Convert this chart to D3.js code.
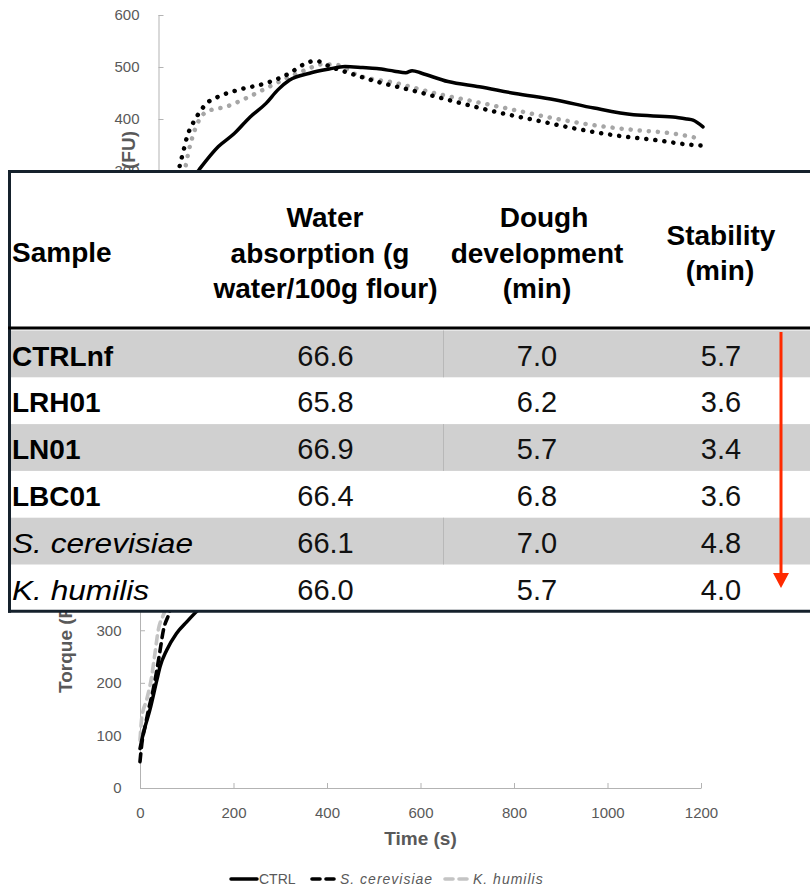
<!DOCTYPE html>
<html>
<head>
<meta charset="utf-8">
<script src="https://cdn.jsdelivr.net/npm/d3@7"></script>
<style>
  body { margin: 0; background: #fff; }
  svg { display: block; font-family: "Liberation Sans", Arial, sans-serif; }
</style>
</head>
<body>
<svg id="fig" width="810" height="890"></svg>
<script>
// Farinograph torque curves: [time (s), torque (FU)]
const upperCtrl = [[0,75],[20,150],[45,230],[70,280],[89,302],[132,347],[167,372],[202,404],[237,430],[263,456],[289,475],[333,488],[376,496],[411,501],[450,499],[481,497],[520,492],[545,489],[559,493],[580,488],[638,472],[707,462],[786,449],[873,437],[960,421],[1047,408],[1134,404],[1165,400],[1178,398],[1200,385]];
const upperScer = [[0,50],[20,150],[35,240],[45,302],[54,335],[63,366],[76,392],[89,411],[106,430],[132,443],[176,456],[237,469],[289,488],[320,505],[346,512],[380,500],[411,491],[481,472],[568,453],[655,433],[742,414],[829,398],[916,382],[1003,369],[1091,360],[1178,350],[1195,349]];
const upperKhum = [[0,90],[20,160],[40,240],[58,302],[67,340],[80,379],[106,414],[150,424],[193,440],[237,459],[281,478],[324,494],[359,505],[393,504],[437,485],[524,469],[612,449],[699,433],[786,417],[873,401],[960,388],[1047,379],[1134,372],[1195,362]];

const lowerCtrl = [[0,75],[7,104],[21,148],[36,205],[43,231],[57,262],[78,294],[100,316],[118,333],[167,372],[202,404],[237,430],[263,456],[289,475],[333,488],[376,496],[411,501],[481,497],[559,493],[638,472],[707,462],[786,449],[873,437],[960,421],[1047,408],[1134,404],[1178,398],[1200,385]];
const lowerScer = [[0,50],[4,85],[11,117],[18,148],[28,186],[36,224],[43,262],[50,300],[61,329],[76,370],[89,400],[106,425],[132,443],[176,456],[237,469],[289,488],[346,512],[411,491],[481,472],[568,453],[655,433],[742,414],[829,398],[916,382],[1003,369],[1091,360],[1178,350],[1200,348]];
const lowerKhum = [[0,91],[4,135],[14,167],[25,212],[32,256],[39,300],[50,329],[67,360],[80,385],[106,414],[150,424],[193,440],[237,459],[281,478],[324,494],[359,505],[393,504],[437,485],[524,469],[612,449],[699,433],[786,417],[873,401],[960,388],[1047,379],[1134,372],[1195,363]];

// Tick labels left uncovered by the table in each panel
const upperTorqueTicks = [300, 400, 500, 600];
const lowerTorqueTicks = [0, 100, 200, 300];
const timeTicks = [0, 200, 400, 600, 800, 1000, 1200];
const legendNames = ["CTRL", "S. cerevisiae", "K. humilis"];

// Dough rheology table
const columnHeaders = [["Sample"], ["Water", "absorption (g", "water/100g flour)"], ["Dough", "development", "(min)"], ["Stability", "(min)"]];
const sampleNames = ["CTRLnf", "LRH01", "LN01", "LBC01", "S. cerevisiae", "K. humilis"];
const sampleItalic = [false, false, false, false, true, true];
const waterAbsorption = [66.6, 65.8, 66.9, 66.4, 66.1, 66.0];
const doughDevelopment = [7.0, 6.2, 5.7, 6.8, 7.0, 5.7];
const stability = [5.7, 3.6, 3.4, 3.6, 4.8, 4.0];

const svg = d3.select("#fig");
svg.append("rect").attr("width", 810).attr("height", 890).attr("fill", "#fff");

const axisColor = "#b3b3b3";
const labelColor = "#595959";

function styleAxis(g) {
  g.select(".domain").attr("stroke", axisColor).attr("stroke-width", 1);
  g.selectAll(".tick line").attr("stroke", axisColor);
  g.selectAll(".tick text").attr("fill", labelColor).attr("font-size", 15)
    .attr("font-family", "'Liberation Sans', Arial, sans-serif");
}

const seriesStyle = {
  solid: { stroke: "#000", width: 3.5, dash: null },
  dotBlack: { stroke: "#000", width: 4.5, dash: "0.1 9" },
  dotGray: { stroke: "#a6a6a6", width: 4.5, dash: "0.1 9" },
  dashBlack: { stroke: "#000", width: 3.6, dash: "8 6" },
  dashGray: { stroke: "#c4c4c4", width: 3.6, dash: "8 6" }
};

// Clip regions keep each panel outside the table block
const defs = svg.append("defs");
defs.append("clipPath").attr("id", "clipUpper").append("rect")
  .attr("x", 0).attr("y", 0).attr("width", 810).attr("height", 172);
defs.append("clipPath").attr("id", "clipLower").append("rect")
  .attr("x", 0).attr("y", 610).attr("width", 810).attr("height", 280);

function drawPanel(cfg) {
  const x = d3.scaleLinear().domain([0, 1200]).range(cfg.xr);
  const y = d3.scaleLinear().domain([0, 600]).range(cfg.yr);
  const g = svg.append("g").attr("clip-path", `url(#${cfg.clip})`);

  if (cfg.xAxis) {
    g.append("g").attr("transform", `translate(0,${cfg.yr[0]})`)
      .call(d3.axisBottom(x).tickValues(timeTicks).tickFormat(d3.format("d"))
        .tickSize(-5).tickSizeOuter(0).tickPadding(19))
      .call(styleAxis);
  }
  const yAxis = g.append("g").attr("transform", `translate(${cfg.xr[0]},0)`)
    .call(d3.axisLeft(y).tickValues(cfg.yTicks).tickFormat(d3.format("d"))
      .tickSize(-5).tickSizeOuter(0).tickPadding(cfg.pad))
    .call(styleAxis);
  yAxis.select(".domain").attr("d", `M0.5,${cfg.yr[0]}V${cfg.yr[1]}`);

  const line = d3.line().x(d => x(d[0])).y(d => y(d[1])).curve(d3.curveMonotoneX);
  cfg.series.forEach(s => {
    const st = seriesStyle[s.style];
    g.append("path").datum(s.data)
      .attr("fill", "none").attr("stroke", st.stroke).attr("stroke-width", st.width)
      .attr("stroke-linecap", "round").attr("stroke-linejoin", "round")
      .attr("stroke-dasharray", st.dash)
      .attr("d", line);
  });

  g.append("text")
    .attr("transform", `translate(${cfg.titleX},${cfg.titleY}) rotate(-90)`)
    .attr("text-anchor", cfg.titleAnchor)
    .attr("font-size", 19).attr("font-weight", "bold").attr("fill", labelColor)
    .text("Torque (FU)");
  return { x, y, g };
}

// Upper panel
drawPanel({
  xr: [158.5, 703], yr: [327, 15], pad: 19, clip: "clipUpper", xAxis: false,
  yTicks: upperTorqueTicks,
  titleX: 135, titleY: 131, titleAnchor: "end",
  series: [
    { data: upperKhum, style: "dotGray" },
    { data: upperScer, style: "dotBlack" },
    { data: upperCtrl, style: "solid" }
  ]
});

// Lower panel
drawPanel({
  xr: [140, 701], yr: [788, 472.5], pad: 18.5, clip: "clipLower", xAxis: true,
  yTicks: lowerTorqueTicks,
  titleX: 72, titleY: 693, titleAnchor: "start",
  series: [
    { data: lowerKhum, style: "dashGray" },
    { data: lowerScer, style: "dashBlack" },
    { data: lowerCtrl, style: "solid" }
  ]
});

svg.append("text")
  .attr("x", 420.5).attr("y", 845).attr("text-anchor", "middle")
  .attr("font-size", 19).attr("font-weight", "bold").attr("fill", labelColor)
  .text("Time (s)");

// Legend
const legendItems = [
  { name: legendNames[0], style: "solid", x0: 231, italic: false },
  { name: legendNames[1], style: "dashBlack", x0: 312, italic: true },
  { name: legendNames[2], style: "dashGray", x0: 445, italic: true }
];
const legend = svg.append("g");
legendItems.forEach(it => {
  const st = seriesStyle[it.style];
  legend.append("line")
    .attr("x1", it.x0).attr("x2", it.x0 + 26).attr("y1", 879).attr("y2", 879)
    .attr("stroke", st.stroke).attr("stroke-width", st.width)
    .attr("stroke-linecap", "round").attr("stroke-dasharray", st.dash);
  legend.append("text")
    .attr("x", it.x0 + 28).attr("y", 884)
    .attr("font-size", 14).attr("fill", labelColor)
    .attr("font-style", it.italic ? "italic" : "normal")
    .attr("letter-spacing", it.italic ? 1 : 0)
    .text(it.name);
});

// Table overlay
const T = { left: 8, top: 170, right: 810, headBottom: 328, rowTop: 330.5, rowH: 46.8 };
const colCenters = [null, 325.5, 537, 721];
const table = svg.append("g");
const nRows = sampleNames.length;
const tableBottom = T.rowTop + T.rowH * nRows;

table.append("rect")
  .attr("x", T.left).attr("y", T.top).attr("width", T.right - T.left).attr("height", tableBottom - T.top)
  .attr("fill", "#fff");

sampleNames.forEach((name, i) => {
  const yTop = T.rowTop + i * T.rowH;
  if (i % 2 === 0) {
    table.append("rect").attr("x", T.left).attr("y", yTop).attr("width", T.right - T.left).attr("height", T.rowH)
      .attr("fill", "#d0d0d0");
    table.append("line").attr("x1", 443.5).attr("x2", 443.5).attr("y1", yTop).attr("y2", yTop + T.rowH)
      .attr("stroke", "#b8b8b8").attr("stroke-width", 1);
  }
  const base = yTop + 35;
  const label = table.append("text").attr("font-size", 28).attr("fill", "#000");
  if (sampleItalic[i]) {
    label.attr("transform", `translate(12,${base}) scale(1.13,1)`).attr("font-style", "italic");
  } else {
    label.attr("x", 12).attr("y", base).attr("font-weight", "bold");
  }
  label.text(name);

  [waterAbsorption[i], doughDevelopment[i], stability[i]].forEach((v, j) => {
    table.append("text")
      .attr("x", colCenters[j + 1]).attr("y", base).attr("text-anchor", "middle")
      .attr("font-size", 29).attr("fill", "#111")
      .text(v.toFixed(1));
  });
});

// Header text
const headerBaselines = [[262], [227, 263, 298], [227, 263, 298], [245, 280]];
const headerCenters = [[12], [325, 320, 325.5], [544, 537, 537], [721, 720]];
columnHeaders.forEach((lines, c) => {
  lines.forEach((txt, k) => {
    table.append("text")
      .attr("x", headerCenters[c][k]).attr("y", headerBaselines[c][k])
      .attr("text-anchor", c === 0 ? "start" : "middle")
      .attr("font-size", 28).attr("font-weight", "bold").attr("fill", "#000")
      .text(txt);
  });
});

// Borders
const borderColor = "#15212c";
table.append("line").attr("x1", T.left).attr("x2", T.right).attr("y1", T.top + 1.5).attr("y2", T.top + 1.5)
  .attr("stroke", borderColor).attr("stroke-width", 3);
table.append("line").attr("x1", T.left + 1.5).attr("x2", T.left + 1.5).attr("y1", T.top).attr("y2", tableBottom + 1.5)
  .attr("stroke", borderColor).attr("stroke-width", 3);
table.append("line").attr("x1", T.left).attr("x2", T.right).attr("y1", T.headBottom).attr("y2", T.headBottom)
  .attr("stroke", "#000").attr("stroke-width", 3);
table.append("line").attr("x1", T.left).attr("x2", T.right).attr("y1", tableBottom).attr("y2", tableBottom)
  .attr("stroke", borderColor).attr("stroke-width", 3);

// Red arrow: stability decreases down the table
const arrowX = 781, arrowTop = 332, arrowTip = 588;
table.append("line").attr("x1", arrowX).attr("x2", arrowX).attr("y1", arrowTop).attr("y2", arrowTip - 12)
  .attr("stroke", "#ff2a00").attr("stroke-width", 3);
table.append("path")
  .attr("d", d3.line()([[arrowX - 8, arrowTip - 15], [arrowX + 8, arrowTip - 15], [arrowX, arrowTip]]) + "Z")
  .attr("fill", "#ff2a00");
</script>
</body>
</html>
